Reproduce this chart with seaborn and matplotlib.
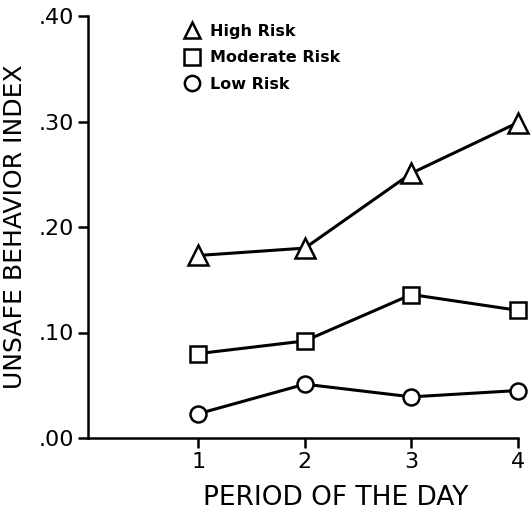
import matplotlib
matplotlib.use("Agg")
import matplotlib.pyplot as plt
from matplotlib.lines import Line2D
import seaborn as sns
import pandas as pd

# ---- data ----
periods = [1, 2, 3, 4]
high_risk = [0.173, 0.180, 0.251, 0.299]
moderate_risk = [0.080, 0.092, 0.136, 0.121]
low_risk = [0.023, 0.051, 0.039, 0.045]
series_names = ["High Risk", "Moderate Risk", "Low Risk"]
series_markers = ["^", "s", "o"]
y_ticks = [0.0, 0.1, 0.2, 0.3, 0.4]
y_tick_labels = [".00", ".10", ".20", ".30", ".40"]
x_ticks = [1, 2, 3, 4]
x_tick_labels = ["1", "2", "3", "4"]

sns.set_style("ticks")
plt.rcParams["font.family"] = ["DejaVu Sans"]
plt.rcParams["text.color"] = "black"
plt.rcParams["axes.labelcolor"] = "black"

df = pd.DataFrame({
    "period": periods * 3,
    "value": high_risk + moderate_risk + low_risk,
    "risk": [series_names[0]] * 4 + [series_names[1]] * 4 + [series_names[2]] * 4,
})

fig = plt.figure(figsize=(5.31, 5.14), dpi=100)
ax = fig.add_axes([88 / 531, 76 / 514, 430 / 531, 422 / 514])

marker_sizes = {"High Risk": 14, "Moderate Risk": 12, "Low Risk": 11.5}
for name, mk in zip(series_names, series_markers):
    sub = df[df["risk"] == name]
    sns.lineplot(data=sub, x="period", y="value", ax=ax, color="black",
                 linewidth=2.2, marker=mk, markersize=marker_sizes[name],
                 markerfacecolor="white", markeredgecolor="black",
                 markeredgewidth=1.8, clip_on=False, zorder=3, legend=False)

ax.set_xlim(-0.035, 4.0)
ax.set_ylim(0.0, 0.4)
ax.set_xticks(x_ticks, x_tick_labels)
ax.set_yticks(y_ticks, y_tick_labels)

for side in ["top", "right"]:
    ax.spines[side].set_visible(False)
for side in ["left", "bottom"]:
    ax.spines[side].set_linewidth(1.8)
    ax.spines[side].set_color("black")

ax.tick_params(axis="both", direction="out", length=7, width=1.8,
               colors="black", labelcolor="black")
ax.tick_params(axis="y", labelsize=16, pad=3)
ax.tick_params(axis="x", labelsize=16, pad=3)

ax.set_xlabel("PERIOD OF THE DAY", fontsize=19, color="black")
ax.xaxis.set_label_coords(0.577, -0.112)
ax.set_ylabel("UNSAFE BEHAVIOR INDEX", fontsize=18, labelpad=8, color="black")

handles = [Line2D([], [], linestyle="none", marker=mk, markersize=11,
                  markerfacecolor="white", markeredgecolor="black",
                  markeredgewidth=1.8)
           for mk in series_markers]
leg = ax.legend(handles, series_names, loc="upper left",
                bbox_to_anchor=(0.205, 1.0), frameon=False,
                handlelength=1.0, handletextpad=0.6, labelspacing=0.72,
                borderpad=0, prop={"size": 11.5, "weight": "bold"})
for t in leg.get_texts():
    t.set_color("black")

fig.savefig("out.png", dpi=100, facecolor="white")
